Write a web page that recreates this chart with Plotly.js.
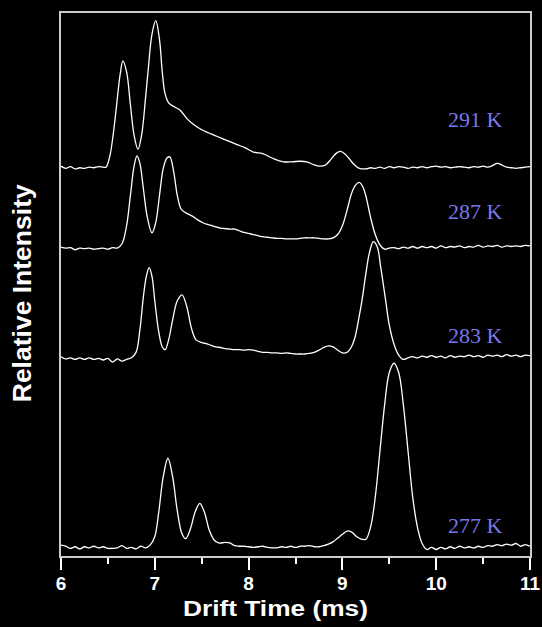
<!DOCTYPE html>
<html>
<head>
<meta charset="utf-8">
<script src="https://cdn.plot.ly/plotly-3.0.1.min.js"></script>
<style>
html,body{margin:0;padding:0;background:#000;}
#chart{width:542px;height:627px;}
</style>
</head>
<body>
<div id="chart"></div>
<script>
// Temperature labels
const temps = ['277 K', '283 K', '287 K', '291 K'];
// Vertical stacking offset of each trace (relative intensity units)
const offsets = [1.8, 36.5, 56.9, 71.6];

// Drift times (ms) and intensities (above baseline) for each temperature
const x277 = [6.00,6.05,6.10,6.15,6.20,6.25,6.30,6.35,6.40,6.45,6.50,6.55,6.60,6.65,6.70,6.75,6.80,6.85,6.90,6.95,
  7.00,7.04,7.09,7.14,7.19,7.24,7.29,7.33,7.38,7.43,7.48,7.53,7.58,7.63,7.68,
  7.75,7.80,7.85,7.90,7.95,8.00,8.05,8.10,8.15,8.20,8.25,8.30,8.35,8.40,8.45,8.50,8.55,8.60,8.65,8.70,
  8.75,8.80,8.85,8.90,8.95,9.00,9.05,9.10,9.15,9.20,9.25,9.30,9.35,9.40,9.45,9.50,9.55,9.60,9.65,9.70,
  9.75,9.80,9.85,9.90,9.95,10.00,10.05,10.10,10.15,10.20,10.25,10.30,10.35,10.40,10.45,10.50,10.55,10.60,10.65,10.70,
  10.75,10.80,10.85,10.90,10.95,11.00];
const i277 = [0.2,0.0,-0.4,-0.1,-0.5,-0.1,-0.3,0.0,-0.3,-0.1,-0.4,-0.4,-0.3,0.1,-0.4,-0.2,-0.5,0.0,-0.3,0.2,
  1.8,6.0,12.8,16.2,12.8,6.5,2.3,1.4,3.2,6.3,7.9,6.2,3.0,1.2,0.6,
  0.7,0.6,0.1,0.0,0.0,-0.1,-0.2,-0.1,0.0,-0.2,-0.3,-0.3,-0.1,-0.2,0.0,-0.2,0.0,0.0,0.1,-0.1,
  -0.1,0.1,0.4,0.8,1.5,2.2,2.8,2.6,1.8,1.3,1.3,3.5,9.0,17.5,26.0,32.0,33.7,32.0,26.0,17.5,
  9.0,3.5,0.5,-0.6,-0.2,-0.6,-0.2,-0.5,-0.1,-0.4,0.0,-0.3,-0.1,-0.3,0.0,-0.2,0.1,0.0,0.3,0.1,
  0.4,0.2,0.5,0.0,0.3,0.0];

const x283 = [6.00,6.05,6.10,6.15,6.20,6.25,6.30,6.35,6.40,6.45,6.50,6.55,6.60,6.65,6.70,6.75,
  6.80,6.84,6.88,6.91,6.94,6.97,7.00,7.04,7.08,7.11,7.15,7.19,7.24,7.29,7.34,7.39,7.44,
  7.50,7.55,7.60,7.65,7.70,7.75,7.80,7.85,7.90,7.95,8.00,8.05,8.10,8.15,8.20,8.25,8.30,8.35,8.40,8.45,
  8.50,8.55,8.60,8.65,8.70,8.75,8.80,8.85,8.90,8.95,9.00,9.05,
  9.09,9.13,9.17,9.21,9.25,9.29,9.33,9.37,9.41,9.46,9.50,9.55,9.60,
  9.65,9.70,9.75,9.80,9.85,9.90,9.95,10.00,10.05,10.10,10.15,10.20,10.25,10.30,10.35,10.40,10.45,10.50,10.55,10.60,
  10.65,10.70,10.75,10.80,10.85,10.90,10.95,11.00];
const i283 = [0.2,-0.2,0.0,-0.3,0.0,-0.3,0.0,-0.3,-0.1,-0.4,-0.1,-0.8,-0.2,-0.6,-0.3,0.0,
  1.0,5.0,11.5,15.0,16.6,15.0,10.5,5.0,2.0,1.5,3.5,7.0,10.5,11.6,9.5,5.5,3.3,
  2.8,2.6,2.3,2.0,1.9,1.7,1.6,1.5,1.5,1.4,1.5,1.4,1.2,1.0,1.0,0.9,0.9,0.8,0.9,0.8,
  0.7,0.7,0.7,0.8,1.0,1.4,1.9,2.2,2.0,1.4,0.9,1.0,
  1.8,3.5,6.8,10.7,15.5,19.5,21.4,20.5,16.5,10.7,6.0,2.5,0.5,
  -0.3,0.0,0.2,0.0,0.3,0.1,0.4,0.1,0.3,0.0,0.4,0.1,0.3,0.2,0.5,0.2,0.4,0.1,0.5,0.3,
  0.5,0.2,0.6,0.3,0.5,0.2,0.5,0.4];

const x287 = [6.00,6.05,6.10,6.15,6.20,6.25,6.30,6.35,6.40,6.45,6.50,6.55,6.60,
  6.65,6.70,6.74,6.78,6.81,6.84,6.88,6.92,6.97,7.01,7.05,7.09,7.13,7.16,7.20,7.24,7.28,7.32,
  7.40,7.45,7.50,7.55,7.60,7.65,7.70,7.75,7.80,7.85,7.90,7.95,8.00,8.05,8.10,8.15,8.20,8.25,8.30,8.35,
  8.40,8.45,8.50,8.55,8.60,8.65,8.70,8.75,8.80,8.85,8.90,8.95,
  9.00,9.05,9.10,9.14,9.18,9.22,9.26,9.30,9.35,9.40,
  9.45,9.50,9.55,9.60,9.65,9.70,9.75,9.80,9.85,9.90,9.95,10.00,10.05,10.10,10.15,10.20,10.25,10.30,10.35,10.40,
  10.45,10.50,10.55,10.60,10.65,10.70,10.75,10.80,10.85,10.90,10.95,11.00];
const i287 = [0.0,-0.2,-0.1,-0.5,-0.2,-0.3,-0.2,-0.4,-0.3,-0.2,-0.4,-0.1,-0.2,
  0.6,4.0,9.5,15.0,16.8,15.5,10.5,5.5,2.6,4.5,9.5,14.5,16.4,16.6,14.0,9.5,7.0,6.4,
  5.7,5.1,4.6,4.2,4.0,3.7,3.5,3.4,3.3,3.3,3.0,2.7,2.5,2.3,2.1,1.9,1.8,1.7,1.6,1.6,
  1.5,1.5,1.5,1.6,1.7,1.7,1.7,1.6,1.5,1.5,1.7,2.3,
  3.9,6.8,10.0,11.4,11.9,11.0,8.7,5.5,2.3,0.4,
  -0.4,-0.2,-0.1,-0.3,0.0,-0.2,0.1,-0.2,0.1,-0.1,0.1,-0.2,0.2,-0.1,0.1,0.0,0.2,-0.1,0.1,0.0,
  0.3,0.0,0.2,0.1,0.3,0.0,0.2,0.1,0.2,0.1,0.3,0.2];

const x291 = [6.00,6.05,6.10,6.15,6.20,6.25,6.30,6.35,6.40,6.45,
  6.48,6.52,6.56,6.59,6.63,6.66,6.70,6.74,6.78,6.82,
  6.86,6.90,6.93,6.97,7.01,7.05,7.08,7.11,7.15,7.20,
  7.27,7.34,7.41,7.51,7.66,7.76,7.87,7.96,8.05,8.15,
  8.25,8.37,8.46,8.55,8.62,8.69,8.76,8.82,8.88,8.93,
  8.98,9.03,9.08,9.13,9.18,
  9.25,9.30,9.35,9.40,9.45,9.50,9.55,9.60,9.65,9.70,9.75,9.80,9.85,9.90,9.95,10.00,10.05,10.10,10.15,10.20,
  10.25,10.30,10.35,10.40,10.45,10.50,10.55,10.60,10.65,10.70,10.75,10.80,10.85,10.90,10.95,11.00];
const i291 = [0.2,-0.2,0.1,-0.3,-0.1,-0.2,0.0,-0.1,0.1,0.0,
  0.0,2.0,6.5,11.0,17.0,19.6,17.5,11.5,5.8,3.3,
  6.0,12.5,18.0,24.5,27.0,23.5,17.5,13.5,11.8,11.2,
  10.5,9.0,7.9,6.8,5.7,5.0,4.2,3.6,2.8,2.5,
  1.7,1.0,1.0,1.1,1.0,0.5,0.2,0.4,1.5,2.5,
  2.9,2.4,1.4,0.4,-0.2,
  -0.3,-0.1,-0.2,0.0,-0.2,0.1,-0.1,0.1,0.0,-0.2,0.0,-0.1,0.1,-0.1,0.1,0.2,0.0,0.1,-0.1,0.0,
  0.1,0.0,-0.1,0.1,0.0,0.2,0.0,0.3,0.7,0.4,0.0,-0.1,-0.2,-0.1,0.0,0.1];

const xs = [x277, x283, x287, x291];
const is = [i277, i283, i287, i291];

const traces = xs.map((x, k) => ({
  type: 'scatter',
  mode: 'lines',
  x: x,
  y: is[k].map(v => v + offsets[k]),
  line: {color: '#ffffff', width: 1.3, shape: 'spline', smoothing: 1},
  hoverinfo: 'skip',
  showlegend: false
}));

const labelY = [5.7, 40.7, 63.5, 80.3];
const annotations = temps.map((t, k) => ({
  x: 10.42, y: labelY[k], xref: 'x', yref: 'y',
  text: t, showarrow: false, xanchor: 'center', yanchor: 'middle',
  font: {family: 'Liberation Serif, Times New Roman, serif', size: 22, color: 'rgb(120,120,235)'}
}));

const sans = 'Liberation Sans, Arial, sans-serif';
// axis titles
annotations.push({
  x: 0.457, y: -0.0958, xref: 'paper', yref: 'paper',
  text: 'Drift Time (ms)', showarrow: false, xanchor: 'center', yanchor: 'middle',
  font: {family: sans, size: 22, color: '#ffffff', weight: 'bold'}
});
annotations.push({
  x: -0.083, y: 0.484, xref: 'paper', yref: 'paper', textangle: -90,
  text: 'Relative Intensity', showarrow: false, xanchor: 'center', yanchor: 'middle',
  font: {family: sans, size: 26.5, color: '#ffffff', weight: 'bold'}
});

const layout = {
  width: 542, height: 627,
  paper_bgcolor: '#000000', plot_bgcolor: '#000000',
  margin: {l: 61, r: 12, t: 13, b: 71, pad: 0},
  showlegend: false,
  xaxis: {
    range: [6, 11], tickvals: [6, 7, 8, 9, 10, 11], ticktext: ['6','7','8','9','10','11'],
    ticks: 'outside', ticklen: 12, tickwidth: 2, tickcolor: '#ffffff',
    ticklabelstandoff: -3,
    minor: {tickvals: [6.5, 7.5, 8.5, 9.5, 10.5], ticks: 'outside', ticklen: 6, tickwidth: 2, tickcolor: '#ffffff'},
    showgrid: false, zeroline: false,
    showline: true, linecolor: '#cccccc', linewidth: 2, mirror: true,
    tickfont: {family: sans, size: 19, color: '#ffffff', weight: 'bold'}
  },
  yaxis: {
    range: [0, 100], showticklabels: false, ticks: '',
    showgrid: false, zeroline: false,
    showline: true, linecolor: '#cccccc', linewidth: 2, mirror: true
  },
  annotations: annotations
};

Plotly.newPlot('chart', traces, layout, {displayModeBar: false, staticPlot: true}).then(() => {
  // the reference x title is horizontally stretched: fit it to its measured width
  document.querySelectorAll('#chart .annotation-text').forEach(el => {
    if (el.textContent === 'Drift Time (ms)') {
      el.setAttribute('textLength', '185');
      el.setAttribute('lengthAdjust', 'spacingAndGlyphs');
    }
  });
});
</script>
</body>
</html>
